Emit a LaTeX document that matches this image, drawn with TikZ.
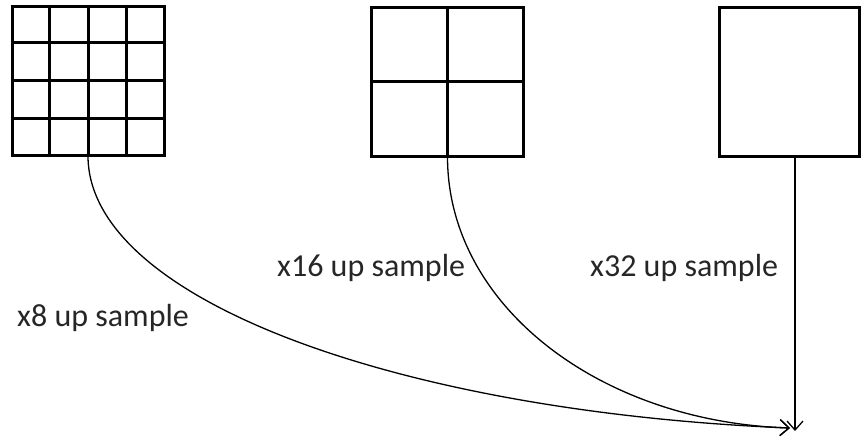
\documentclass[tikz,border=0pt]{standalone}
\usepackage{fontspec}
\setmainfont{Carlito}
\usetikzlibrary{arrows.meta,calc}

\begin{document}
\begin{tikzpicture}[x=1pt, y=-1pt,
      gridbox/.style={draw, line width=3pt, minimum width=152pt, minimum height=149pt, inner sep=0pt},
      upline/.style={line width=1.3pt, -{Straight Barb[length=9pt, width=16pt, line width=1.3pt]}},
      lbl/.style={anchor=base west, inner sep=0pt, font=\fontsize{32}{38}\selectfont, text=black!85}]

    \useasboundingbox (0,0) rectangle (861,439);

    % the three feature maps
    \node[gridbox] (g8)  at (88,80.5)   {};
    \node[gridbox] (g16) at (447.5,81.5) {};
    \node[gridbox, minimum width=140pt] (g32) at (789,81.5) {};

    \foreach \f in {0.25,0.5,0.75} {
      \draw[line width=3pt] ($(g8.north west)!\f!(g8.north east)$) -- ($(g8.south west)!\f!(g8.south east)$);
      \draw[line width=3pt] ($(g8.north west)!\f!(g8.south west)$) -- ($(g8.north east)!\f!(g8.south east)$);
    }
    \draw[line width=3pt] (g16.north) -- (g16.south);
    \draw[line width=3pt] (g16.west) -- (g16.east);

    \coordinate (tip) at (790,428);
    \coordinate (out) at (795,431);

    % up sampling paths
    \draw[upline] (g8.south) .. controls (89,300) and (400,412) .. (tip);
    \draw[upline] (g16.south) .. controls (448,306) and (600,422) .. (tip);
    \draw[upline] (g16.south -| out) -- (out);

    \node[lbl] (l8)  at (17,326)  {x8 up sample};
    \node[lbl] (l16) at (277,276) {x16 up sample};
    \node[lbl] (l32) at (590,276) {x32 up sample};

\end{tikzpicture}
\end{document}
